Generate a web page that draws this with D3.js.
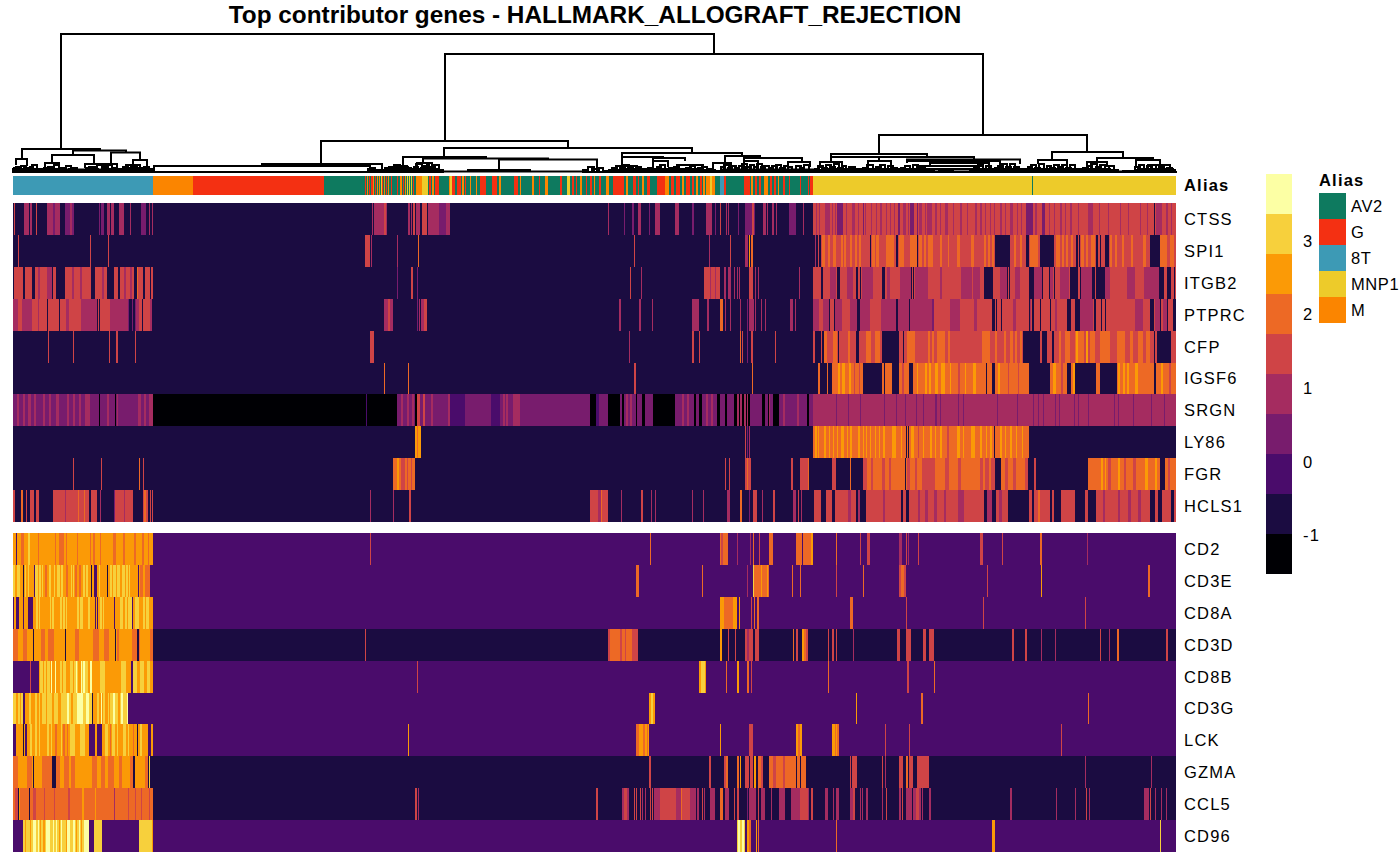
<!DOCTYPE html>
<html>
<head>
<meta charset="utf-8">
<script src="https://cdn.jsdelivr.net/npm/d3@7"></script>
<style>
  html, body { margin: 0; padding: 0; background: #fff; }
  svg { display: block; }
  text { font-family: "Liberation Sans", Arial, sans-serif; fill: #000; }
  .label { font-size: 16.5px; letter-spacing: 1.2px; }
  .legendLabel { font-size: 16.5px; letter-spacing: .6px; }
</style>
</head>
<body>
<svg id="chart" width="1400" height="865"></svg>
<script>
var title = "Top contributor genes - HALLMARK_ALLOGRAFT_REJECTION";
var cellCount = 1163;

var topGenes = ["CTSS", "SPI1", "ITGB2", "PTPRC", "CFP", "IGSF6", "SRGN", "LY86", "FGR", "HCLS1"];
var bottomGenes = ["CD2", "CD3E", "CD8A", "CD3D", "CD8B", "CD3G", "LCK", "GZMA", "CCL5", "CD96"];
var geneBase = {CTSS: -.7, SPI1: -.7, ITGB2: -.7, PTPRC: -.7, CFP: -.7, IGSF6: -.7, SRGN: .4, LY86: -.7, FGR: -.7, HCLS1: -.7,
  CD2: -.2, CD3E: -.2, CD8A: -.2, CD3D: -.7, CD8B: -.2, CD3G: -.2, LCK: -.2, GZMA: -.7, CCL5: -.7, CD96: -.2};

var colorSteps = ["#000004", "#1B0C41", "#4A0C6B", "#781C6D", "#A52C60", "#CF4446", "#ED6925", "#FB9A06", "#F7D03C", "#FCFFA4"];
var colorDomain = [-1.53, 3.91];
var colorTicks = [-1, 0, 1, 2, 3];

var aliasNames = ["AV2", "G", "8T", "MNP1", "M"];
var aliasColors = ["#0E7A5F", "#F43012", "#3D9AB5", "#EDCB2A", "#FB8500"];

// alias annotation runs: [first cell, end cell, alias]
var aliasRuns = [[0,140,"8T"],[140,180,"M"],[180,311,"G"],[311,800,"AV2"],[800,1163,"MNP1"],[1019,1020,"AV2"],
  [352,353,"G"],[354,355,"M"],[356,357,"G"],[358,360,"G"],[360,361,"M"],[362,363,"G"],[364,365,"M"],[366,367,"M"],[368,369,"MNP1"],[369,370,"G"],[371,372,"M"],[373,374,"G"],[375,376,"M"],[378,379,"G"],[384,385,"G"],
  [387,389,"M"],[390,391,"G"],[392,393,"M"],[394,395,"MNP1"],[396,397,"MNP1"],[398,399,"MNP1"],[400,401,"G"],[403,409,"M"],[409,415,"MNP1"],[416,418,"G"],[419,421,"M"],[422,426,"G"],
  [436,437,"M"],[437,439,"MNP1"],[439,442,"G"],[444,448,"G"],[449,451,"M"],[452,453,"G"],[457,458,"M"],[463,464,"M"],[467,473,"G"],[479,484,"G"],[486,488,"M"],
  [501,505,"G"],[507,508,"M"],[519,521,"M"],[526,527,"G"],[532,535,"M"],[547,549,"G"],[554,557,"MNP1"],[559,561,"G"],[563,564,"G"],[567,569,"M"],[573,574,"G"],[577,579,"G"],[581,582,"M"],[586,588,"G"],[593,596,"M"],[600,611,"G"],[613,615,"M"],
  [620,623,"G"],[625,626,"G"],[629,631,"M"],[634,637,"G"],[644,652,"G"],[652,656,"M"],[658,661,"G"],[663,667,"G"],[669,671,"M"],[673,677,"G"],[679,681,"G"],[683,685,"M"],[687,689,"G"],[690,692,"M"],[693,697,"M"],[697,699,"MNP1"],[699,702,"M"],[707,711,"8T"],[711,713,"G"],
  [731,737,"G"],[738,740,"M"],[742,744,"G"],[746,748,"G"],[751,755,"M"],[757,759,"G"],[761,763,"G"],[765,766,"M"],[770,772,"G"],[776,777,"G"],[787,788,"G"],[795,796,"G"],[797,800,"G"]];

var CTSS = [[1,2,1.5],[11,16,.9],[17,19,.9],[23,24,1.5],[34,47,.9],[40,42,.4],[52,61,.4],[57,59,.9],[86,87,.4],[88,91,.4],[94,97,.9],[98,101,.9],[106,111,.9],[117,118,.9],[128,133,.4],[136,137,.9],[139,140,.9],
  [359,360,.9],[361,374,.9],[371,373,1.5],[395,397,.9],[398,399,.9],[400,402,1.5],[403,407,.9],[409,414,1.5],[415,426,.9],[426,433,.4],[433,437,.9],
  [595,596,.9],[611,612,.4],[619,621,.4],[625,628,.9],[636,637,.4],[642,647,.9],[662,666,.9],[679,681,.4],[693,699,.9],[702,703,.4],[707,708,1.5],[713,714,.9],[715,716,.9],[725,726,.4],[732,742,.4],[739,741,1.5],[750,753,.9],[754,755,.9],[759,761,.9],[763,764,.9],[776,783,.4],[790,791,.9],
  [800,1163,1.5],[812,817,.9],[819,820,.9],[824,830,.4],[839,842,.9],[852,853,.9],[858,859,.9],[867,869,.9],[877,878,.9],[885,887,.4],[890,893,.9],[897,901,.4],[906,909,.9],[914,919,.9],[922,924,.9],[932,935,.9],[947,949,.9],[962,964,.9],[967,969,.9],[977,978,.9],[987,989,.9],[997,1000,.9],[1004,1005,.9],[1013,1020,.4],[1022,1024,.9],[1029,1032,.4],[1047,1049,.9],[1057,1059,.9],[1075,1080,.9],[1107,1108,.9],[1127,1128,.9],[1141,1142,-.7],[1143,1149,.9],[1153,1155,.9],
  [803,804,.9],[806,807,.9],[822,823,.9],[833,834,.9],[845,846,.9],[850,851,.4],[863,864,.9],[873,874,.9],[881,882,.9],[895,896,.9],[904,905,.4],[912,913,.9],[927,928,.9],[940,941,.9],[954,955,.9],[972,973,.9],[981,982,.9],[992,993,.9],[1008,1009,.9],[1036,1037,.9],[1041,1042,.9],[1052,1053,.9],[1065,1066,.9],[1086,1087,.9],[1095,1096,.9],[1115,1116,.9],[1134,1135,.9],[1158,1159,.9]];

var SPI1 = [[5,6,1.5],[77,78,1.5],[95,96,1.5],[352,357,1.5],[358,359,.9],[384,385,.9],[405,406,2],[621,622,1.5],[696,697,.9],[717,718,1.5],[732,735,.9],[736,737,2.5],[738,740,2],[802,803,.9],[805,806,1.5],
  [808,1163,1.5],[809,812,2],[815,817,2],[820,823,2],[828,830,2],[831,833,2],[837,839,2],[842,844,2],[846,848,2],[859,862,2],[863,866,2],[873,881,2],[886,891,2],[897,904,2],[906,909,2],[911,913,2],[915,920,2],[927,929,2],[935,936,2],[944,947,2],[958,961,2],[971,973,2],[975,977,2],[979,981,2],[1001,1003,2],[1007,1009,2],[1017,1025,2],[1043,1047,2],[1049,1051,2],[1053,1055,2],[1058,1060,2],[1068,1071,2],[1073,1075,2],[1078,1082,2],[1097,1099,2],[1102,1104,2],[1109,1111,2],[1118,1120,2],[1130,1133,2],[1147,1154,2],[1157,1161,2],
  [857,858,-.7],[883,885,-.7],[904,905,-.7],[982,997,-.7],[1013,1016,-.7],[1027,1041,-.7],[1063,1065,-.7],[1066,1067,-.7],[1083,1085,-.7],[1087,1088,-.7],[1092,1096,-.7],[1137,1147,-.7]];

var ITGB2 = [[1,10,1.5],[12,19,1.5],[22,39,1.5],[25,27,.9],[34,39,.9],[40,43,1.5],[52,78,1.5],[59,61,.9],[67,69,.9],[82,94,1.5],[89,91,.9],[101,105,1.5],[107,121,1.5],[111,113,.9],[117,119,.9],[124,130,1.5],[124,125,2],[132,137,1.5],[138,140,1.5],
  [384,385,.4],[398,400,1.5],[404,405,.4],[617,618,1.5],[628,629,.9],[691,707,1.5],[697,698,.9],[702,703,.9],[711,713,.9],[715,718,.9],[721,722,.9],[724,725,.9],[726,727,.9],[736,740,1.5],[742,743,.9],[745,746,.9],[786,787,.9],
  [800,1163,1.5],[817,823,.9],[834,840,.9],[849,860,.9],[874,877,.9],[887,898,.9],[902,915,.9],[927,929,.9],[948,959,.9],[960,967,.9],[987,994,.9],[1002,1007,.9],[1021,1029,.9],[1037,1040,.9],[1047,1056,.9],[1068,1079,.9],[1092,1097,.9],[1114,1122,.9],[1131,1146,.9],
  [808,810,-.7],[824,827,-.7],[843,845,-.7],[847,848,-.7],[869,872,-.7],[898,899,-.7],[900,901,-.7],[971,980,-.7],[994,995,-.7],[996,997,-.7],[1016,1021,-.7],[1029,1030,-.7],[1036,1037,-.7],[1041,1042,-.7],[1057,1065,-.7],[1067,1068,-.7],[1079,1082,-.7],[1083,1092,-.7],[1146,1151,-.7],[1154,1158,-.7],[1161,1162,-.7]];

var PTPRC = [[0,140,1.5],[0,5,.9],[9,19,.9],[25,26,.9],[34,35,-.7],[46,47,-.7],[53,56,.9],[68,84,.9],[84,85,-.7],[86,87,-.7],[97,115,.9],[115,116,.4],[116,119,-.7],[119,120,.4],[120,122,-.7],[122,123,.4],[123,126,.9],[129,130,-.7],[137,139,.9],[139,140,-.7],
  [371,380,.9],[375,377,1.5],[404,405,.4],[406,407,.9],[408,411,.9],[411,414,1.5],[606,608,.9],[626,628,.9],[639,640,.9],[679,686,.9],[694,696,.9],[707,710,2],[712,713,.9],[717,718,.9],[727,728,.9],[734,735,.4],[736,741,.9],[742,743,.9],[748,749,.9],[752,753,.9],[777,780,.9],[782,783,.9],
  [800,1163,1.5],[800,806,.9],[810,816,.9],[822,829,.9],[837,844,.9],[847,857,.9],[868,883,.9],[885,919,.9],[919,921,.4],[937,947,.9],[961,964,.9],[1000,1003,.9],[1017,1018,.9],[1042,1044,.9],[1067,1080,.9],[1122,1130,.9],[1142,1147,.9],[1150,1154,.9],
  [816,817,-.7],[821,822,-.7],[844,847,-.7],[883,885,-.7],[896,897,-.7],[979,982,-.7],[983,984,-.7],[988,989,-.7],[1016,1017,-.7],[1019,1021,-.7],[1027,1028,-.7],[1037,1038,-.7],[1054,1058,-.7],[1062,1067,-.7],[1081,1083,-.7],[1088,1089,-.7],[1092,1093,-.7],[1137,1141,-.7],[1147,1148,-.7],[1154,1155,-.7],[1160,1163,-.7]];

var CFP = [[35,36,1.5],[60,61,1.5],[96,97,1.5],[103,105,1.5],[122,123,1.5],[357,361,1.5],[616,617,.9],[679,681,1.5],[686,687,1.5],[727,728,2],[729,730,1.5],[734,735,.4],[738,740,1.5],[762,763,1.5],[800,802,1.5],
  [808,1163,1.5],[811,814,2],[820,824,2],[835,837,2],[853,858,2],[862,867,2],[894,902,2],[915,917,2],[919,921,2],[924,932,2],[935,937,2],[969,977,2],[982,984,2],[991,993,2],[997,1000,2],[1002,1004,2],[1007,1009,2],[1046,1048,2],[1052,1057,2],[1062,1071,2],[1063,1065,2.5],[1073,1075,2.5],[1077,1082,2],[1087,1097,2],[1104,1112,2],[1117,1120,2],[1125,1130,2],[1133,1137,2],
  [809,811,-.7],[825,826,-.7],[843,846,-.7],[869,886,-.7],[890,891,-.7],[1010,1027,-.7],[1029,1034,-.7],[1039,1041,-.7],[1141,1142,-.7],[1144,1158,-.7]];

var IGSF6 = [[371,372,2],[395,396,2],[621,623,1.5],[739,740,2],[805,807,2],[814,815,2],
  [819,850,2],[825,827,2.5],[829,832,2.5],[836,838,2.5],[841,842,1.5],[846,847,1.5],[869,871,2],[872,879,2],[886,896,2],[889,891,1.5],[900,973,2],[904,905,2.5],[912,914,2.5],[916,918,2.5],[922,925,2.5],[928,932,2.5],[937,938,2.5],[945,947,1.5],[952,953,2.5],[960,963,2.5],[974,979,2],[982,1016,2],[985,987,2.5],[995,996,1.5],[1005,1006,1.5],[1037,1054,2],[1040,1043,2.5],[1048,1050,1.5],[1058,1060,2],[1060,1062,2.5],[1083,1087,2],[1104,1137,2],[1105,1107,2.5],[1110,1112,2.5],[1114,1116,2.5],[1122,1125,2.5],[1137,1141,2],[1143,1163,2],[1148,1150,2.5],[1156,1158,1.5]];

var SRGN = [[0,140,.4],[4,6,.9],[10,12,.9],[15,18,.9],[21,23,.9],[30,32,.9],[36,38,.9],[43,46,.9],[54,56,.9],[60,62,.9],[66,68,.9],[72,77,.9],[86,87,-1.3],[94,96,.9],[102,103,-1.3],[104,105,.9],[125,128,.9],[131,133,.9],[136,140,.9],
  [140,384,-1.3],[353,354,-.2],[384,402,.4],[388,390,.9],[394,396,.9],[399,401,.9],[402,404,-1.3],[404,407,1.2],[407,437,.4],[410,412,1.5],[418,420,.9],[435,437,.9],[437,452,-.2],[452,478,.4],[478,487,-.2],[487,500,.4],[490,492,.9],[493,495,.9],[500,507,.9],[507,577,.4],
  [577,583,-1.3],[583,586,-.2],[586,595,.4],[595,607,-1.3],[607,609,.4],[609,611,-1.3],[611,623,.4],[613,615,.9],[617,619,.9],[623,624,-1.3],[624,629,.4],[629,632,-1.3],[633,640,.4],[640,662,-1.3],[662,681,.4],[669,671,.9],[674,676,.9],[681,683,-1.3],[683,686,.4],[686,689,-1.3],[689,702,.4],[693,695,.9],[698,700,.9],[702,704,.4],[704,707,-1.3],[707,712,.4],[712,714,-1.3],[714,721,.4],[721,724,-1.3],[724,726,.9],[726,727,-1.3],[727,729,.9],[729,731,-1.3],[731,733,.9],[733,734,-1.3],[734,735,.9],[735,737,-1.3],[737,749,.4],[749,752,-1.3],[752,755,.4],[755,756,-1.3],[756,757,.9],[757,760,.4],[760,766,-1.3],[766,795,.4],[770,772,.9],[784,786,.9],[795,799,-1.3],[799,802,.4],[802,806,.9],[794,796,-1.3],[796,799,.4],
  [800,1163,.9],[823,824,.4],[835,836,.4],[847,848,.4],[871,872,.4],[883,884,.4],[892,893,.4],[903,904,.4],[910,911,.4],[922,924,.4],[927,928,.4],[945,946,.4],[950,951,.4],[984,985,.4],[1004,1005,.4],[1020,1021,.4],[1025,1026,.4],[1030,1031,.4],[1042,1043,.4],[1046,1047,.4],[1061,1062,.4],[1065,1066,.4],[1075,1076,.4],[1101,1102,.4],[1105,1106,.4],[1120,1121,.4],[1138,1139,.4],[1151,1152,.4],[1161,1163,.9]];

var LY86 = [[402,408,2],[402,404,2.5],[405,408,2.5],[732,733,1.5],[734,735,.4],[736,737,.9],[800,1016,2],
  [802,804,2.5],[805,806,2.5],[811,813,2.5],[828,831,2.5],[837,839,2.5],[845,847,2.5],[857,858,2.5],[870,872,2.5],[879,883,2.5],[898,901,2.5],[917,919,2.5],[927,929,2.5],[944,947,2.5],[958,962,2.5],[967,969,2.5],[977,979,2.5],[987,989,2.5],[997,999,2.5],[893,894,-.7],[895,896,-.7],[981,982,-.7],
  [816,817,2.5],[820,821,2.5],[824,825,2.5],[834,835,2.5],[850,851,2.5],[853,854,2.5],[862,863,2.5],[866,867,2.5],[888,889,2.5],[905,906,1.5],[910,911,2.5],[922,923,2.5],[934,936,1.5],[950,951,2.5],[973,974,2.5],[992,993,2.5],[1003,1004,2.5],[1009,1010,2.5]];

var FGR = [[60,61,1.5],[88,89,1.5],[126,127,2],[130,131,1.5],[380,402,2],[384,386,2.5],[388,390,1.5],[394,395,1.5],[398,399,1.5],[390,392,1.5],[712,713,1.5],[716,717,1.5],[732,738,1.5],[734,735,2],[778,780,1.5],[787,789,1.5],[795,796,2],[789,795,1.5],
  [819,823,1.5],[837,838,2],[850,982,2],[850,854,1.5],[858,860,1.5],[869,872,1.5],[876,878,1.5],[892,893,-.7],[894,897,1.5],[902,904,1.5],[909,922,1.5],[932,936,1.5],[945,948,1.5],[967,982,1.5],[970,972,2],[976,978,2],
  [988,1015,2],[992,995,1.5],[1000,1003,1.5],[1012,1015,1.5],[1021,1023,1.5],[1075,1147,2],[1088,1090,2.5],[1092,1093,2.5],[1095,1098,1.5],[1105,1107,2.5],[1111,1113,1.5],[1120,1123,1.5],[1132,1135,2.5],[1142,1144,2.5],[1152,1163,2],[1155,1157,1.5]];

var HCLS1 = [[0,2,1.5],[8,10,2],[13,14,1.5],[17,21,1.5],[23,26,1.5],[40,76,1.5],[52,53,.9],[65,66,2],[71,72,2],[78,84,1.5],[87,88,.9],[101,120,1.5],[101,102,.4],[111,112,.9],[130,135,1.5],[131,133,2],[137,138,1.5],[139,140,1.5],
  [357,358,.9],[380,381,.9],[396,398,1.5],[577,595,1.5],[585,588,.9],[588,589,2],[608,609,.9],[628,630,1.5],[638,639,.9],[642,643,.9],[679,680,.9],[690,691,.9],[714,717,.9],[727,729,2],[736,737,.4],[740,744,1.5],[749,750,.9],[760,762,1.5],[780,783,.9],[785,786,1.5],[788,789,.9],
  [801,808,1.5],[813,819,1.5],[822,843,1.5],[835,838,.9],[845,847,.9],[853,888,1.5],[870,872,.9],[890,893,1.5],[896,971,1.5],[905,907,.9],[912,915,.9],[921,924,.9],[931,933,.9],[945,951,.9],[974,979,.9],[983,995,1.5],[986,989,.9],[1016,1019,1.5],[1021,1037,1.5],[1025,1027,2],[1039,1041,1.5],[1048,1062,1.5],[1072,1075,1.5],[1083,1137,1.5],[1090,1092,.9],[1105,1107,.9],[1115,1118,.9],[1125,1128,.9],[1142,1145,1.5],[1149,1158,1.5],[1161,1163,1.5]];

var CD2 = [[0,140,2.5],[3,4,-.2],[8,11,2],[15,17,3.1],[25,26,2],[42,43,2],[46,51,2],[53,54,2],[64,65,2],[77,78,2],[80,82,2],[87,88,2],[100,103,2],[110,112,2],[121,123,2],[129,131,2],[135,136,2],[357,358,1.5],
  [637,638,2],[707,715,2],[708,710,1.5],[724,725,.9],[737,738,.9],[740,741,2],[746,747,1.5],[756,760,2],[783,789,2],[790,800,2],[798,800,2.5],[823,824,2],[847,848,1.5],[854,857,1.5],[886,889,.9],[893,894,1.5],[895,896,.9],[905,906,1.5],[967,970,1.5],[989,990,1.5],[1027,1029,2],[1074,1075,.9]];

var CD3E = [[0,137,2.5],[0,2,3.1],[4,7,3.1],[10,11,-.7],[21,22,-.2],[22,30,3.1],[32,34,2],[44,47,3.1],[53,55,2],[62,64,2],[66,68,2],[78,79,-.7],[81,84,-.2],[94,95,-.7],[97,107,3.1],[109,117,3.1],[125,126,-.2],[127,137,2],[130,132,2.5],
  [12,13,3.1],[15,16,3.1],[25,26,2.5],[28,29,2.5],[36,38,3.1],[41,42,3.1],[48,50,3.1],[58,59,3.1],[60,61,3.1],[70,72,3.1],[73,75,3.1],[86,87,3.1],[99,100,2.5],[103,104,2.5],[112,113,2.5],[115,116,2.5],
  [623,626,2],[689,690,2],[734,735,.9],[740,756,2],[740,741,3.1],[748,749,2.5],[754,755,2.5],[779,780,2],[787,788,2],[823,824,1.5],[850,851,2],[886,893,1.5],[888,891,2],[974,975,1.5],[1028,1029,2.5],[1135,1137,2]];

var CD8A = [[0,140,2.5],[0,1,-.2],[3,6,-.2],[10,11,-.2],[15,20,-.2],[23,27,3.1],[37,41,3.1],[47,54,3.1],[64,70,3.1],[75,77,3.1],[82,83,-.2],[84,85,-.2],[87,91,3.1],[101,102,-.2],[107,119,3.1],[119,120,-.2],[122,126,3.1],[130,136,3.1],
  [25,26,2.5],[38,39,2.5],[49,50,2.5],[52,53,2.5],[66,67,2.5],[89,90,2.5],[110,112,2.5],[114,115,2.5],[132,133,2.5],
  [707,724,2],[707,711,2.5],[720,724,2.5],[726,727,2.5],[738,739,1.5],[741,742,2],[744,746,2],[837,840,2],[893,894,1.5],[970,971,1.5],[1072,1073,1.5]];

var CD3D = [[0,140,2.5],[0,5,2],[10,14,2],[20,21,-.7],[28,32,2],[35,41,2],[52,53,-.7],[62,66,2],[80,86,2],[91,96,2],[102,103,-.7],[104,106,2],[119,124,2],[124,126,-.7],[126,127,2],[137,140,2],[352,353,1.5],
  [595,625,2],[595,597,1.5],[607,609,1.5],[612,613,1.5],[617,625,1.5],[617,619,2],[707,709,2.5],[715,716,1.5],[722,723,1.5],[732,740,1.5],[734,736,.9],[742,746,1.5],[780,781,2],[783,785,1.5],[789,793,2.5],[791,793,2],[793,795,1.5],[815,816,1.5],[819,821,1.5],[823,824,1.5],[840,841,.9],[884,887,1.5],[893,898,1.5],[910,913,1.5],[916,921,1.5],[999,1001,1.5],[1012,1014,1.5],[1028,1029,.9],[1042,1043,.9],[1087,1088,1.5],[1096,1097,.9],[1104,1106,2],[1153,1155,1.5]];

var CD8B = [[17,18,1.5],[26,118,2.5],[27,37,3.1],[30,31,2.5],[33,34,2.5],[38,39,3.6],[42,43,3.6],[47,53,3.1],[49,50,2.5],[57,65,3.1],[60,61,2.5],[63,64,3.6],[68,72,3.6],[69,70,3.1],[72,75,3.1],[77,79,3.6],[87,92,3.1],[108,113,3.1],[120,140,2.5],[120,124,3.1],[127,131,3.1],[134,137,3.1],
  [404,405,1.5],[686,693,3.1],[686,688,2.5],[692,693,2.5],[713,714,2],[724,726,2.5],[734,736,2],[738,739,1.5],[815,816,2],[894,896,1.5],[921,922,2]];

var CD3G = [[0,115,3.1],[3,5,2.5],[7,8,2.5],[10,12,-.2],[12,29,2.5],[16,18,3.1],[22,24,3.1],[26,27,3.1],[29,37,3.1],[33,34,2.5],[39,41,2.5],[45,48,2.5],[54,56,3.6],[58,60,2.5],[60,62,3.1],[64,70,3.6],[70,72,3.1],[73,76,3.6],[79,80,-.7],[80,97,2.5],[84,86,3.1],[88,89,3.6],[90,92,3.1],[95,96,3.1],[100,102,3.6],[105,107,2.5],[108,110,3.6],[114,115,3.6],
  [636,642,2.5],[638,640,3.1],[843,844,2.5],[908,910,2],[1075,1076,2]];

var LCK = [[3,10,2.5],[10,11,-.7],[11,12,2.5],[14,76,2.5],[17,19,3.1],[22,24,3.1],[26,27,3.1],[34,36,3.1],[38,39,3.1],[42,44,2],[48,49,3.1],[50,52,2],[54,55,2],[57,62,3.1],[67,72,3.1],[82,84,2.5],[89,124,2.5],[92,95,3.1],[97,98,2],[99,102,3.1],[104,105,3.1],[110,113,3.1],[115,116,3.1],[120,121,2],[124,125,-.7],[125,135,2.5],[127,129,3.1],[138,140,2.5],
  [395,396,2.5],[623,636,2.5],[623,626,2],[630,632,2],[634,635,2],[707,708,2.5],[736,740,1.5],[783,789,2.5],[785,787,2],[819,826,2.5],[822,823,2],[824,826,2],[872,873,1.5],[896,897,1.5],[1048,1049,1.5]];

var GZMA = [[0,39,2.5],[0,5,2],[14,19,2],[20,21,-.7],[29,39,2],[43,62,2],[47,51,2.5],[56,58,2.5],[62,79,2.5],[79,120,2],[84,88,2.5],[92,95,2.5],[101,106,2.5],[109,117,2.5],[122,132,2.5],[132,135,2],[136,137,3.1],[135,136,-.7],
  [636,638,1.5],[696,698,1.5],[711,715,1.5],[713,715,2],[724,726,2],[727,728,2.5],[732,736,1.5],[737,740,1.5],[741,743,2.5],[745,750,2],[748,750,1.5],[756,793,2],[760,763,1.5],[770,772,1.5],[783,784,-.7],[787,788,-.7],[837,838,1.5],[839,844,1.5],[869,870,1.5],[872,873,.9],[886,890,1.5],[893,895,2],[896,900,1.5],[904,916,1.5],[1072,1073,.9],[1138,1139,.9]];

var CCL5 = [[0,140,2],[2,5,1.5],[5,6,-.7],[6,7,2.5],[16,17,-.7],[20,23,1.5],[31,32,1.5],[41,42,1.5],[55,57,1.5],[69,71,2.5],[82,83,2.5],[101,102,.9],[115,116,1.5],[122,123,1.5],[128,129,1.5],[136,137,1.5],
  [402,404,1.5],[405,406,.9],[583,585,1.5],[609,616,.9],[611,614,1.5],[621,622,1.5],[623,624,1.5],[627,628,1.5],[629,630,.9],[632,633,.9],[637,638,1.5],[639,640,1.5],[641,683,1.5],[641,647,.9],[663,668,.9],[668,669,2],[677,683,.9],[684,686,.9],[689,690,1.5],[691,692,.9],[697,702,.9],[707,710,2],[712,716,.9],[721,722,1.5],[724,726,1.5],[734,735,.4],[736,743,.9],[745,746,1.5],[748,752,.9],[758,759,.9],[766,772,.9],[778,796,.9],[787,795,1.5],[798,800,1.5],
  [812,815,.9],[820,821,.9],[823,826,.9],[837,842,.9],[840,842,1.5],[847,848,.9],[849,850,.9],[853,855,.9],[869,870,.9],[873,874,1.5],[886,888,.9],[889,890,1.5],[893,899,.9],[900,908,.9],[903,906,1.5],[909,910,.9],[916,918,.9],[997,999,.9],[1043,1044,.9],[1062,1063,.9],[1073,1074,1.5],[1076,1077,.9],[1131,1136,.9],[1137,1138,1.5],[1142,1143,.9],[1148,1149,.9],[1153,1154,.9]];

var CD96 = [[10,76,3.1],[12,13,2.5],[17,18,2.5],[20,23,3.6],[25,26,3.6],[27,28,2.5],[30,32,2.5],[33,37,3.6],[40,41,3.6],[43,44,3.6],[46,47,2.5],[48,49,3.6],[53,54,2.5],[54,57,3.6],[60,62,3.6],[63,64,2.5],[66,67,3.6],[68,69,2.5],[71,76,3.6],[81,89,3.1],[126,139,3.1],[139,140,2.5],
  [724,732,3.1],[725,727,3.6],[729,731,3.6],[734,738,2.5],[736,738,2],[743,744,2.5],[745,746,2],[823,824,2],[979,982,2.5],[1147,1148,3.1]];

var geneRuns = {CTSS: CTSS, SPI1: SPI1, ITGB2: ITGB2, PTPRC: PTPRC, CFP: CFP, IGSF6: IGSF6, SRGN: SRGN, LY86: LY86, FGR: FGR, HCLS1: HCLS1,
  CD2: CD2, CD3E: CD3E, CD8A: CD8A, CD3D: CD3D, CD8B: CD8B, CD3G: CD3G, LCK: LCK, GZMA: GZMA, CCL5: CCL5, CD96: CD96};

// dendrogram merges: [left cell, right cell, height, left child height, right child height]
var upperMerges = [[48,701,139,24,119],[432,970,119,32,38],[308,555,32,9,25],[249,369,9,7,4],[141,357,7,1,3],[141,354,1,0,0],
  [431,679,25,16,20],[390,473,16,6,14.5],[410,535,14.5,10,13.5],[486,584,13.5,3,6],[455,517,3,1,1],[404,416,10,5,6],[385,395,6,2,3],
  [609,729,20,16,17],[609,650,16,7,15],[603,618,7,2,3],[640,672,15,8,12],[640,655,12,5,6],[664,690,8,3,4],[712,747,17,10,15],[700,718,10,3,5],[731,789,15,12,11],[731,745,12,4,5],[775,797,11,5,6],
  [866,1074,38,19,21],[818,914,19,11,16],[807,829,11,5,7],[855,878,12,6,5],[818,866,16,12,13],[866,961,16,12,13.5],[894,1007,13.5,12,9],[894,987,12,10,4],[917,976,10,7,3],[905,970,7,4,2],[913,968,4,2,2],
  [1039,1110,21,13,15],[1025,1054,13,9,8],[1084,1140,15,11,13],[1074,1094,11,5,6],[1123,1147,13,7,8],[1135,1157,8,5,4]];
var eightTMerges = [[9,87,24,14,22.5],[60,113,22.5,18,20.5],[39,81,18,10,9],[98,127,20.5,9,13],[3,14,14,8,7],[120,134,13,6,5],[32,46,10,6,5],[72,90,9,5,6],[92,104,9,6,4]];

// small merges near the leaves: [left cell, right cell, height]
var leafMerges = [[1,4,5],[3,7,6],[5,10,4],[8,13,7],[11,15,5],[14,18,3],[17,20,6],[19,24,8],[23,27,4],[26,30,3],[29,33,2],[31,37,5],[35,40,6],[38,43,3],[41,46,8],[44,49,4],[47,52,5],[50,54,3],[53,58,7],[56,61,4],[60,64,5],[63,68,3],[66,72,2],[70,75,3],[73,78,5],[76,82,6],[80,85,4],[84,89,8],[87,92,3],[90,95,6],[94,99,8],[97,102,3],[100,104,5],[103,108,2],[106,112,4],[110,115,6],[113,118,8],[116,121,5],[119,124,6],[122,127,8],[125,130,5],[128,133,3],[131,136,6],[134,138,4],[136,140,3],
  [355,359,4],[358,362,5],[361,364,2],[369,374,3],[372,378,5],[376,383,6],[381,387,8],[386,391,4],[389,394,7],[393,398,5],[396,400,3],[401,405,6],[403,409,9],[408,413,5],[411,415,7],[414,419,10],[417,422,6],[420,426,8],[425,430,3],[570,574,3],[575,581,6],[579,586,4],[584,590,5],[590,595,2],
  [596,600,3],[599,604,5],[603,608,7],[607,612,6],[611,616,8],[615,620,5],[619,624,7],[623,628,6],[627,632,4],[631,636,3],[635,640,5],[640,645,4],[644,648,6],[647,652,8],[651,656,3],[656,662,5],[661,666,6],[665,670,4],[669,674,3],[673,678,5],[677,682,7],[681,686,3],[685,690,5],[689,694,6],[694,698,4],[697,702,3],[701,706,2],
  [708,712,6],[711,716,8],[715,719,5],[718,723,7],[722,726,5],[726,730,7],[729,734,9],[733,738,6],[737,741,8],[741,745,6],[744,749,9],[748,752,6],[751,756,7],[756,760,5],[759,764,7],[763,768,8],[767,772,5],[771,775,7],[775,779,6],[778,783,3],[783,788,7],[787,791,5],[791,796,8],[795,800,3],
  [802,806,4],[805,810,7],[809,814,5],[813,818,8],[817,822,6],[821,826,9],[825,830,5],[829,833,7],[832,837,4],[836,842,6],[841,846,4],[845,850,3],[850,855,5],[854,860,8],[859,863,4],[863,868,6],[867,872,8],[871,876,4],[875,880,7],[879,884,5],[884,889,2],[888,892,5],[892,897,7],[896,901,4],[900,905,8],[904,909,6],[908,912,5],[912,917,3],[917,921,2],[922,927,1.5],[926,940,2.5],[940,955,1.5],[957,962,2],
  [961,966,5],[965,970,8],[969,974,4],[973,978,7],[977,982,3],[982,986,5],[985,990,7],[989,994,9],[993,998,6],[997,1002,9],[1001,1006,6],[1005,1010,4],[1010,1015,3],[1015,1019,6],[1018,1023,8],[1022,1027,5],[1026,1031,9],[1030,1035,4],[1034,1038,7],[1037,1042,5],[1041,1046,8],[1045,1050,6],[1049,1054,8],[1053,1058,5],[1057,1062,8],[1061,1066,4],[1065,1070,3],[1070,1075,5],[1074,1079,7],[1078,1084,9],[1083,1088,6],[1087,1092,8],[1091,1097,4],[1096,1101,7],[1100,1105,3],[1105,1110,1.5],[1110,1122,2],[1122,1127,6],[1126,1131,8],[1130,1135,4],[1134,1139,7],[1138,1143,8],[1142,1147,4],[1146,1151,6],[1150,1155,4],[1154,1159,5],[1158,1162,3],
  [0,140,1],[355,430,1],[430,570,1.5],[570,800,1],[800,1163,1],
  [0,70,3],[70,140,2.5],[0,50,4],[90,140,4],[40,100,3.5],[355,430,3],[380,425,4],[596,700,3],[610,690,4],[708,800,3.5],[708,795,2.5],[802,920,3],[810,915,4],[960,1100,3],[970,1095,4],[1122,1162,3],[1125,1160,4]];

var svg = d3.select("#chart");

var x = d3.scaleLinear().domain([0, cellCount]).range([13, 1176]);
var rowTop = d3.scaleBand().domain(topGenes).range([203, 522]);
var rowBottom = d3.scaleBand().domain(bottomGenes).range([533, 852]);
var color = d3.scaleQuantize().domain(colorDomain).range(colorSteps);
var aliasColor = d3.scaleOrdinal().domain(aliasNames).range(aliasColors);
var height = d3.scaleLinear().domain([0, 139]).range([173, 34]);

function drawHeatmap(genes, band) {
  var rows = svg.append("g").selectAll("g")
    .data(genes)
    .enter().append("g")
    .attr("data-gene", function(d) {return d;});

  rows.append("rect")
    .attr("x", x(0))
    .attr("y", function(d) {return band(d);})
    .attr("width", x(cellCount) - x(0))
    .attr("height", band.bandwidth())
    .attr("fill", function(d) {return color(geneBase[d]);})
    .attr("shape-rendering", "crispEdges");

  rows.each(function(gene) {
    d3.select(this).selectAll("rect.run")
      .data(geneRuns[gene])
      .enter().append("rect")
      .attr("class", "run")
      .attr("x", function(d) {return x(d[0]);})
      .attr("y", band(gene))
      .attr("width", function(d) {return x(d[1]) - x(d[0]);})
      .attr("height", band.bandwidth())
      .attr("fill", function(d) {return color(d[2]);})
      .attr("shape-rendering", "crispEdges");
  });

  rows.append("text")
    .attr("class", "label")
    .attr("x", 1184)
    .attr("y", function(d) {return band(d) + band.bandwidth() / 2 + 6;})
    .text(function(d) {return d;});
}

drawHeatmap(topGenes, rowTop);
drawHeatmap(bottomGenes, rowBottom);

// annotation bar
svg.append("g").selectAll("rect")
  .data(aliasRuns)
  .enter().append("rect")
  .attr("x", function(d) {return x(d[0]);})
  .attr("y", 176)
  .attr("width", function(d) {return x(d[1]) - x(d[0]);})
  .attr("height", 19)
  .attr("fill", function(d) {return aliasColor(d[2]);})
  .attr("shape-rendering", "crispEdges");

svg.append("text")
  .attr("class", "label")
  .attr("x", 1184)
  .attr("y", 191)
  .style("font-weight", "bold")
  .text("Alias");

// dendrogram
var dendro = svg.append("g").attr("fill", "none").attr("stroke", "#000").attr("stroke-width", 2);

dendro.selectAll("path.upper")
  .data(upperMerges.concat(eightTMerges))
  .enter().append("path")
  .attr("class", "upper")
  .attr("d", function(d) {
    return "M" + x(d[0]) + "," + height(d[3]) + "V" + height(d[2]) + "H" + x(d[1]) + "V" + height(d[4]);
  });

dendro.selectAll("path.leaf")
  .data(leafMerges)
  .enter().append("path")
  .attr("class", "leaf")
  .attr("d", function(d) {
    return "M" + x(d[0]) + "," + height(0) + "V" + height(d[2]) + "H" + x(d[1]) + "V" + height(0);
  });

// title
svg.append("text")
  .attr("x", 595)
  .attr("y", 23)
  .attr("text-anchor", "middle")
  .style("font-size", "24.35px")
  .style("font-weight", "bold")
  .text(title);

// colour key
var keyScale = d3.scaleLinear().domain(colorDomain).range([574, 174]);
var key = svg.append("g");
key.selectAll("rect")
  .data(colorSteps)
  .enter().append("rect")
  .attr("x", 1266)
  .attr("width", 26)
  .attr("y", function(d) {return keyScale(color.invertExtent(d)[1]);})
  .attr("height", function(d) {return keyScale(color.invertExtent(d)[0]) - keyScale(color.invertExtent(d)[1]);})
  .attr("fill", function(d) {return d;})
  .attr("shape-rendering", "crispEdges");

key.selectAll("text")
  .data(colorTicks)
  .enter().append("text")
  .attr("class", "label")
  .attr("x", 1303)
  .attr("y", function(d) {return keyScale(d) + 6;})
  .text(function(d) {return d;});

// alias legend
var aliasBand = d3.scaleBand().domain(aliasNames).range([193, 323]);
svg.append("text")
  .attr("class", "label")
  .attr("x", 1319)
  .attr("y", 186)
  .style("font-weight", "bold")
  .text("Alias");

var aliasItems = svg.append("g").selectAll("g")
  .data(aliasNames)
  .enter().append("g");

aliasItems.append("rect")
  .attr("x", 1319)
  .attr("y", function(d) {return aliasBand(d);})
  .attr("width", 27)
  .attr("height", aliasBand.bandwidth())
  .attr("fill", function(d) {return aliasColor(d);})
  .attr("shape-rendering", "crispEdges");

aliasItems.append("text")
  .attr("class", "legendLabel")
  .attr("x", 1351)
  .attr("y", function(d) {return aliasBand(d) + aliasBand.bandwidth() / 2 + 6;})
  .text(function(d) {return d;});
</script>
</body>
</html>
